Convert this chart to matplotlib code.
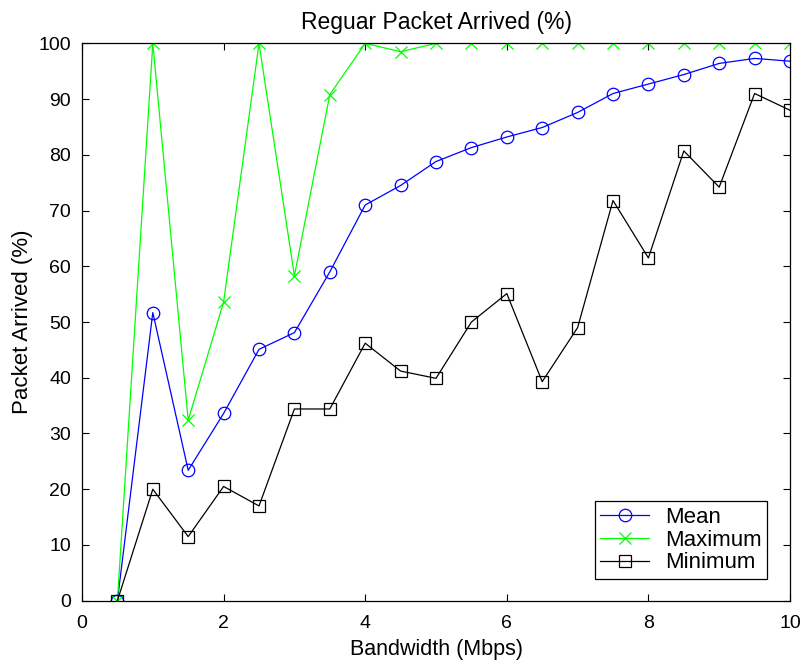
import matplotlib
matplotlib.use("Agg")
import matplotlib.pyplot as plt

bandwidth = [0.5, 1.0, 1.5, 2.0, 2.5, 3.0, 3.5, 4.0, 4.5, 5.0,
             5.5, 6.0, 6.5, 7.0, 7.5, 8.0, 8.5, 9.0, 9.5, 10.0]
mean_arrived = [0.0, 51.7, 23.4, 33.6, 45.1, 48.1, 59.0, 71.0, 74.5, 78.8,
                81.3, 83.2, 84.9, 87.6, 91.0, 92.7, 94.4, 96.4, 97.3, 96.8]
max_arrived = [0.0, 100.0, 32.4, 53.6, 100.0, 58.3, 90.8, 100.0, 98.5, 100.0,
               100.0, 100.0, 100.0, 100.0, 100.0, 100.0, 100.0, 100.0, 100.0, 100.0]
min_arrived = [0.0, 20.0, 11.5, 20.5, 17.0, 34.4, 34.4, 46.2, 41.2, 39.9,
               50.0, 55.1, 39.3, 49.0, 71.8, 61.5, 80.7, 74.2, 91.0, 88.0]

x_ticks = [0, 2, 4, 6, 8, 10]
y_ticks = list(range(0, 101, 10))

plt.rcParams['font.family'] = ['Liberation Sans', 'DejaVu Sans']

fig = plt.figure(figsize=(8.04, 6.67), dpi=100)
ax = fig.add_axes([0.102, 0.0994, 0.8806, 0.8356])

ax.plot(bandwidth, mean_arrived, color='#0000ff', lw=0.9, marker='o', ms=9,
        mfc='none', mec='#0000ff', mew=0.9, label='Mean')
ax.plot(bandwidth, max_arrived, color='#00ff00', lw=0.9, marker='x', ms=9,
        mec='#00ff00', mew=0.9, label='Maximum')
ax.plot(bandwidth, min_arrived, color='black', lw=0.9, marker='s', ms=9,
        mfc='none', mec='black', mew=0.9, label='Minimum')

ax.set_xlim(0, 10)
ax.set_ylim(0, 100)
ax.set_xticks(x_ticks)
ax.set_yticks(y_ticks)
ax.tick_params(direction='in', top=True, right=True, labelsize=14, length=5,
               width=0.8)
ax.tick_params(axis='x', pad=10)
ax.tick_params(axis='y', pad=8)
for s in ax.spines.values():
    s.set_linewidth(0.9)

ax.set_title('Reguar Packet Arrived (%)', fontsize=16.5, pad=10)
ax.set_xlabel('Bandwidth (Mbps)', fontsize=15.5, labelpad=5)
ax.set_ylabel('Packet Arrived (%)', fontsize=16, labelpad=4)

leg = ax.legend(loc='lower right', bbox_to_anchor=(0.9675, 0.039), fontsize=16,
                frameon=True, fancybox=False, edgecolor='black', framealpha=1,
                handlelength=2.2, borderpad=0.25, labelspacing=0.08,
                handletextpad=0.7, borderaxespad=0)
leg.get_frame().set_linewidth(0.9)

fig.savefig('out.png', dpi=100)
